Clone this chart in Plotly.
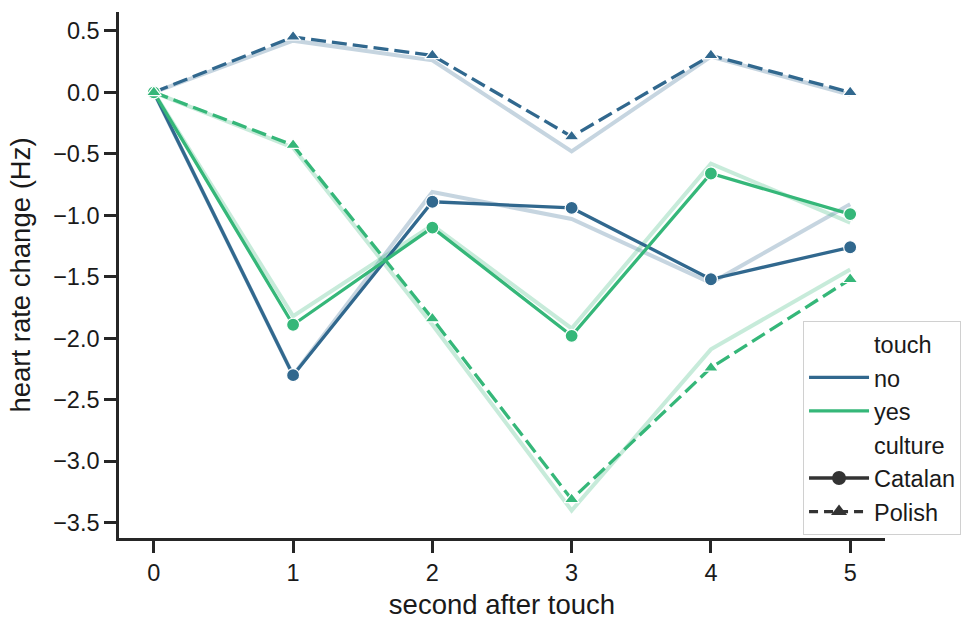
import plotly.graph_objects as go

seconds = [0, 1, 2, 3, 4, 5]
x_ticks = [0, 1, 2, 3, 4, 5]
y_ticks = [0.5, 0.0, -0.5, -1.0, -1.5, -2.0, -2.5, -3.0, -3.5]
y_tick_text = ["0.5", "0.0", "\u22120.5", "\u22121.0", "\u22121.5", "\u22122.0", "\u22122.5", "\u22123.0", "\u22123.5"]

# main (mean) series
no_catalan = [0.0, -2.30, -0.89, -0.94, -1.52, -1.26]
no_polish = [0.0, 0.45, 0.30, -0.36, 0.30, 0.00]
yes_catalan = [0.0, -1.89, -1.10, -1.98, -0.66, -0.99]
yes_polish = [0.0, -0.43, -1.84, -3.31, -2.24, -1.52]

# faint background series
no_catalan_faint = [0.0, -2.30, -0.81, -1.03, -1.55, -0.91]
no_polish_faint = [0.0, 0.42, 0.26, -0.48, 0.29, -0.02]
yes_catalan_faint = [0.0, -1.82, -1.08, -1.92, -0.58, -1.06]
yes_polish_faint = [0.0, -0.45, -1.89, -3.40, -2.09, -1.44]

C_NO = "#31688e"
C_YES = "#35b779"
F_NO = "rgba(49,104,142,0.28)"
F_YES = "rgba(53,183,121,0.28)"
FONT = "Liberation Sans, Arial, sans-serif"
DASH = "15px,6px"

fig = go.Figure()

for ys, col in [(no_catalan_faint, F_NO), (no_polish_faint, F_NO),
                (yes_catalan_faint, F_YES), (yes_polish_faint, F_YES)]:
    fig.add_trace(go.Scatter(x=seconds, y=ys, mode="lines",
                             line=dict(color=col, width=4),
                             showlegend=False, hoverinfo="skip"))

main = [
    (no_catalan, C_NO, "solid", "circle", 13),
    (no_polish, C_NO, DASH, "triangle-up", 13),
    (yes_catalan, C_YES, "solid", "circle", 13),
    (yes_polish, C_YES, DASH, "triangle-up", 13),
]
for ys, col, dash, sym, sz in main:
    fig.add_trace(go.Scatter(x=seconds, y=ys, mode="lines+markers",
                             line=dict(color=col, width=3.3, dash=dash),
                             marker=dict(symbol=sym, size=sz, color=col,
                                         line=dict(color="white", width=1.2)),
                             showlegend=False))

# legend entries
def leg(name, mode="lines", color="rgba(0,0,0,0)", dash="solid", symbol="circle"):
    fig.add_trace(go.Scatter(x=[None], y=[None], mode=mode, name=name,
                             line=dict(color=color, width=3.3, dash=dash),
                             marker=dict(symbol=symbol, size=14, color=color),
                             showlegend=True))

leg("touch")
leg("no", color=C_NO)
leg("yes", color=C_YES)
leg("culture")
leg("Catalan", mode="lines+markers", color="#333333", symbol="circle")
leg("Polish", mode="lines+markers", color="#333333", dash="9px,6px", symbol="triangle-up")

axis_common = dict(showline=True, linecolor="#262626", linewidth=2.5,
                   ticks="outside", ticklen=12, tickwidth=2.5, tickcolor="#262626",
                   showgrid=False, zeroline=False, mirror=False, automargin=False,
                   tickfont=dict(family=FONT, size=23.5, color="#1a1a1a"))

fig.update_layout(
    width=975, height=620,
    margin=dict(l=119, r=90, t=12, b=82),
    paper_bgcolor="white", plot_bgcolor="white",
    font=dict(family=FONT, color="#1a1a1a"),
    xaxis=dict(range=[-0.25, 5.25], tickvals=x_ticks,
               title=dict(text="second after touch", font=dict(family=FONT, size=27.5)),
               **axis_common),
    yaxis=dict(range=[-3.624, 0.653], tickvals=y_ticks, ticktext=y_tick_text,
               title=dict(text="heart rate change (Hz)", font=dict(family=FONT, size=27.5)),
               **axis_common),
    legend=dict(x=0.893, y=0.4125, xanchor="left", yanchor="top",
                bgcolor="rgba(255,255,255,0.85)", bordercolor="#d0d0d0", borderwidth=1,
                font=dict(family=FONT, size=23.5, color="#1a1a1a"),
                itemwidth=60, tracegroupgap=0),
)

fig.write_html("out.html")
